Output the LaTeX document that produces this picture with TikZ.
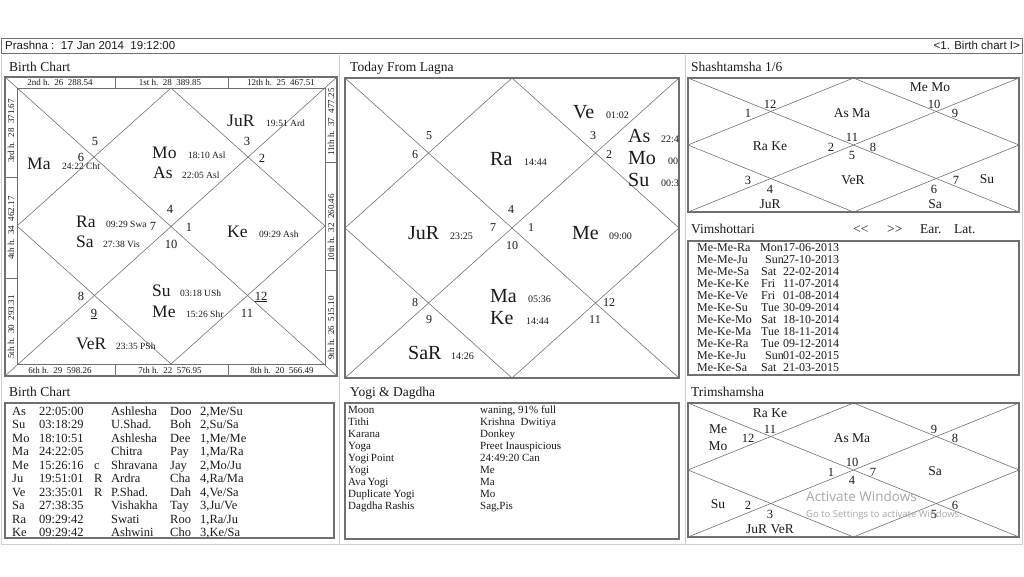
\documentclass[tikz,border=0pt]{standalone}
\usepackage{fontspec}
\setmainfont{Liberation Serif}
\newfontfamily\barfont{Liberation Sans}
\newfontfamily\wmfont{Open Sans}
\usetikzlibrary{positioning}
\definecolor{frameGray}{HTML}{707070}
\definecolor{lineGray}{HTML}{6A6A6A}
\definecolor{sepGray}{HTML}{CFCFCF}
\definecolor{wmGray}{HTML}{A8A8A8}
\definecolor{inkDark}{HTML}{1A1A1A}
\tikzset{
  panelBox/.style={draw=frameGray, line width=1.5pt},
  innerBox/.style={draw=frameGray, line width=0.9pt},
  chartLine/.style={draw=lineGray, line width=0.55pt},
  sepLine/.style={draw=sepGray, line width=1pt},
  barText/.style={inner sep=0pt, text=inkDark, font=\barfont\fontsize{11.5}{13}\selectfont},
  titleTxt/.style={anchor=base west, inner sep=0pt, text=inkDark, font=\fontsize{13.5}{15}\selectfont},
  planetTxt/.style={anchor=base west, inner sep=0pt, text=inkDark, font=\fontsize{17.5}{20}\selectfont},
  bigPlanet/.style={anchor=base west, inner sep=0pt, text=inkDark, font=\fontsize{20}{22}\selectfont},
  degTxt/.style={anchor=base west, inner sep=0pt, text=inkDark, font=\fontsize{9.5}{11}\selectfont},
  houseNum/.style={anchor=base, inner sep=0pt, text=inkDark, font=\fontsize{12.5}{14}\selectfont},
  stripTxt/.style={inner sep=0pt, text=inkDark, font=\fontsize{9}{10}\selectfont},
  vargaTxt/.style={inner sep=0pt, text=inkDark, font=\fontsize{13.5}{15}\selectfont},
  vargaNum/.style={inner sep=0pt, text=inkDark, font=\fontsize{12.5}{14}\selectfont},
  rowTxt/.style={anchor=base west, inner sep=0pt, text=inkDark, font=\fontsize{12.5}{14}\selectfont},
  yogiTxt/.style={anchor=base west, inner sep=0pt, text=inkDark, font=\fontsize{11}{12}\selectfont},
  wmark/.style={anchor=base west, inner sep=0pt, text=wmGray, font=\wmfont},
}
\begin{document}
\begin{tikzpicture}[x=1pt, y=-1pt]
  \useasboundingbox (0,0) rectangle (1024,576);
  \fill[white] (0,0) rectangle (1024,576);

  % header bar
  \draw[draw=frameGray, line width=0.8pt] (1,38) rectangle (1022,53);
  \node[barText, anchor=west] (prashna) at (5,45.5) {Prashna :\ \ 17 Jan 2014\ \ 19:12:00};
  \node[barText, anchor=east] (chartSel) at (1020,45.5) {<1. Birth chart I>};
  \draw[sepLine] (1,55) -- (1,544) -- (1022,544) -- (1022,55);
  \draw[sepLine] (339.5,55) -- (339.5,544) (685.5,55) -- (685.5,544);

  % birth chart
  \node[titleTxt] (bcTitle) at (9,71) {Birth Chart};
  \draw[panelBox] (5,77) rectangle (337,376);
  \draw[innerBox] (17,88) rectangle (325,364);
  \draw[chartLine] (5,77) -- (337,376) (5,376) -- (337,77);
  \draw[chartLine] (171,88) -- (325,226) -- (171,364) -- (17,226) -- cycle;
  \draw[innerBox] (115,77) -- (115,88) (228,77) -- (228,88)
    (115,364) -- (115,376) (228,364) -- (228,376)
    (5,177) -- (17,177) (5,278) -- (17,278)
    (325,162) -- (337,162) (325,270) -- (337,270);
  \node[stripTxt] (h2) at (60,82.5) {2nd h.\ \ 26\ \ 288.54};
  \node[stripTxt] (h1) at (170,82.5) {1st h.\ \ 28\ \ 389.85};
  \node[stripTxt] (h12) at (281,82.5) {12th h.\ \ 25\ \ 467.51};
  \node[stripTxt] (h6) at (60,370.5) {6th h.\ \ 29\ \ 598.26};
  \node[stripTxt] (h7) at (170,370.5) {7th h.\ \ 22\ \ 576.95};
  \node[stripTxt] (h8) at (282,370.5) {8th h.\ \ 20\ \ 566.49};
  \node[stripTxt, rotate=90] (h3) at (11,131) {3rd h.\ \ 28\ \ 371.67};
  \node[stripTxt, rotate=90] (h4) at (11,228) {4th h.\ \ 34\ \ 462.17};
  \node[stripTxt, rotate=90] (h5) at (11,327) {5th h.\ \ 30\ \ 293.31};
  \node[stripTxt, rotate=90] (h11) at (331,122) {11th h.\ \ 37\ \ 477.25};
  \node[stripTxt, rotate=90] (h10) at (331,228) {10th h.\ \ 32\ \ 260.46};
  \node[stripTxt, rotate=90] (h9) at (331,328) {9th h.\ \ 26\ \ 515.10};

  \node[planetTxt] (bcJu) at (227,126) {JuR};
  \node[degTxt] (bcJuD) at (266,126) {19:51 Ard};
  \node[planetTxt] (bcMa) at (27,169) {Ma};
  \node[degTxt] (bcMaD) at (62,169) {24:22 Cht};
  \node[planetTxt] (bcMo) at (152,158) {Mo};
  \node[degTxt] (bcMoD) at (188,158) {18:10 Asl};
  \node[planetTxt] (bcAs) at (153,178) {As};
  \node[degTxt] (bcAsD) at (182,178) {22:05 Asl};
  \node[planetTxt] (bcRa) at (76,227) {Ra};
  \node[degTxt] (bcRaD) at (106,227) {09:29 Swa};
  \node[planetTxt] (bcSa) at (76,247) {Sa};
  \node[degTxt] (bcSaD) at (103,247) {27:38 Vis};
  \node[planetTxt] (bcKe) at (227,237) {Ke};
  \node[degTxt] (bcKeD) at (259,237) {09:29 Ash};
  \node[planetTxt] (bcSu) at (152,296) {Su};
  \node[degTxt] (bcSuD) at (180,296) {03:18 USh};
  \node[planetTxt] (bcMe) at (152,317) {Me};
  \node[degTxt] (bcMeD) at (186,317) {15:26 Shr};
  \node[planetTxt] (bcVe) at (76,349) {VeR};
  \node[degTxt] (bcVeD) at (116,349) {23:35 PSh};
  \node[houseNum] (bcN5) at (95,145) {5};
  \node[houseNum] (bcN6) at (81,161) {6};
  \node[houseNum] (bcN3) at (247,145) {3};
  \node[houseNum] (bcN2) at (262,162) {2};
  \node[houseNum] (bcN4) at (170,213) {4};
  \node[houseNum] (bcN7) at (153,230) {7};
  \node[houseNum] (bcN1) at (189,231) {1};
  \node[houseNum] (bcN10) at (171,248) {10};
  \node[houseNum] (bcN8) at (81,300) {8};
  \node[houseNum] (bcN9) at (94,317) {\underline{9}};
  \node[houseNum] (bcN12) at (261,300) {\underline{12}};
  \node[houseNum] (bcN11) at (247,317) {11};

  % today from lagna
  \node[titleTxt] (tflTitle) at (350,71) {Today From Lagna};
  \draw[panelBox] (345,78) rectangle (679,378);
  \draw[chartLine] (345,78) -- (679,378) (345,378) -- (679,78);
  \draw[chartLine] (512,78) -- (679,228) -- (512,378) -- (345,228) -- cycle;
  \begin{scope}
    \clip (345,78) rectangle (678,378);
    \node[bigPlanet] (tfVe) at (573,118) {Ve};
    \node[degTxt, font=\fontsize{10}{11}\selectfont] (tfVeD) at (606,118) {01:02};
    \node[bigPlanet] (tfAs) at (628,142) {As};
    \node[degTxt, font=\fontsize{10}{11}\selectfont] (tfAsD) at (661,142) {22:4};
    \node[bigPlanet] (tfMo) at (628,164) {Mo};
    \node[degTxt, font=\fontsize{10}{11}\selectfont] (tfMoD) at (668,164) {00};
    \node[bigPlanet] (tfSu) at (628,186) {Su};
    \node[degTxt, font=\fontsize{10}{11}\selectfont] (tfSuD) at (661,186) {00:3};
  \end{scope}
  \node[bigPlanet] (tfRa) at (490,165) {Ra};
  \node[degTxt, font=\fontsize{10}{11}\selectfont] (tfRaD) at (524,165) {14:44};
  \node[bigPlanet] (tfJu) at (408,239) {JuR};
  \node[degTxt, font=\fontsize{10}{11}\selectfont] (tfJuD) at (450,239) {23:25};
  \node[bigPlanet] (tfMe) at (572,239) {Me};
  \node[degTxt, font=\fontsize{10}{11}\selectfont] (tfMeD) at (609,239) {09:00};
  \node[bigPlanet] (tfMa) at (490,302) {Ma};
  \node[degTxt, font=\fontsize{10}{11}\selectfont] (tfMaD) at (528,302) {05:36};
  \node[bigPlanet] (tfKe) at (490,324) {Ke};
  \node[degTxt, font=\fontsize{10}{11}\selectfont] (tfKeD) at (526,324) {14:44};
  \node[bigPlanet] (tfSa) at (408,359) {SaR};
  \node[degTxt, font=\fontsize{10}{11}\selectfont] (tfSaD) at (451,359) {14:26};
  \node[houseNum, font=\fontsize{12}{13}\selectfont] (tfN5) at (429,139) {5};
  \node[houseNum, font=\fontsize{12}{13}\selectfont] (tfN6) at (415,158) {6};
  \node[houseNum, font=\fontsize{12}{13}\selectfont] (tfN3) at (593,139) {3};
  \node[houseNum, font=\fontsize{12}{13}\selectfont] (tfN2) at (609,158) {2};
  \node[houseNum, font=\fontsize{12}{13}\selectfont] (tfN4) at (511,213) {4};
  \node[houseNum, font=\fontsize{12}{13}\selectfont] (tfN7) at (493,231) {7};
  \node[houseNum, font=\fontsize{12}{13}\selectfont] (tfN1) at (531,231) {1};
  \node[houseNum, font=\fontsize{12}{13}\selectfont] (tfN10) at (512,249) {10};
  \node[houseNum, font=\fontsize{12}{13}\selectfont] (tfN8) at (415,306) {8};
  \node[houseNum, font=\fontsize{12}{13}\selectfont] (tfN9) at (429,323) {9};
  \node[houseNum, font=\fontsize{12}{13}\selectfont] (tfN12) at (609,306) {12};
  \node[houseNum, font=\fontsize{12}{13}\selectfont] (tfN11) at (595,323) {11};

  % shashtamsha
  \node[titleTxt] (d6Title) at (691,71) {Shashtamsha 1/6};
  \draw[panelBox] (688,78) rectangle (1019,212);
  \draw[chartLine] (688,78) -- (1019,212) (688,212) -- (1019,78);
  \draw[chartLine] (853.5,78) -- (1019,145) -- (853.5,212) -- (688,145) -- cycle;
  \node[vargaTxt] (d6AsMa) at (852,113) {As Ma};
  \node[vargaTxt] (d6MeMo) at (930,87) {Me Mo};
  \node[vargaTxt] (d6RaKe) at (770,146) {Ra Ke};
  \node[vargaTxt] (d6Ve) at (853,180) {VeR};
  \node[vargaTxt] (d6Su) at (987,179) {Su};
  \node[vargaTxt] (d6Ju) at (770,204) {JuR};
  \node[vargaTxt] (d6Sa) at (935,204) {Sa};
  \node[vargaNum] (d6N12) at (770,104) {12};
  \node[vargaNum] (d6N1) at (748,113) {1};
  \node[vargaNum] (d6N10) at (934,104) {10};
  \node[vargaNum] (d6N9) at (955,113) {9};
  \node[vargaNum] (d6N11) at (852,137) {11};
  \node[vargaNum] (d6N2) at (831,147) {2};
  \node[vargaNum] (d6N5) at (852,155) {5};
  \node[vargaNum] (d6N8) at (873,147) {8};
  \node[vargaNum] (d6N3) at (748,180) {3};
  \node[vargaNum] (d6N4) at (770,189) {4};
  \node[vargaNum] (d6N7) at (956,180) {7};
  \node[vargaNum] (d6N6) at (934,189) {6};

  % vimshottari
  \node[titleTxt] (vimTitle) at (691,233) {Vimshottari};
  \node[titleTxt] (vimPrev) at (853,233) {<\kern0pt<};
  \node[titleTxt] (vimNext) at (887,233) {>\kern0pt>};
  \node[titleTxt] (vimEar) at (920,233) {Ear.};
  \node[titleTxt] (vimLat) at (954,233) {Lat.};
  \draw[panelBox] (688,241) rectangle (1019,375);
  \foreach \vper/\vday/\vx/\vdate [count=\i] in {
      Me-Me-Ra/Mon/760/17-06-2013, Me-Me-Ju/Sun/765/27-10-2013,
      Me-Me-Sa/Sat/761/22-02-2014, Me-Ke-Ke/Fri/761/11-07-2014,
      Me-Ke-Ve/Fri/761/01-08-2014, Me-Ke-Su/Tue/761/30-09-2014,
      Me-Ke-Mo/Sat/761/18-10-2014, Me-Ke-Ma/Tue/761/18-11-2014,
      Me-Ke-Ra/Tue/761/09-12-2014, Me-Ke-Ju/Sun/765/01-02-2015,
      Me-Ke-Sa/Sat/761/21-03-2015} {
    \node[rowTxt, font=\fontsize{12}{13}\selectfont] (vim\i) at (697,{251+12*(\i-1)}) {\vper};
    \node[rowTxt, font=\fontsize{12}{13}\selectfont] (vimDay\i) at (\vx,{251+12*(\i-1)}) {\vday};
    \node[rowTxt, font=\fontsize{12}{13}\selectfont] (vimDate\i) at (783,{251+12*(\i-1)}) {\vdate};
  }

  % birth chart table
  \node[titleTxt] (tabTitle) at (9,396) {Birth Chart};
  \draw[panelBox] (5,403) rectangle (334,538);
  \foreach \pnm/\ptm/\pfl/\pnk/\psy/\ppd/\plA/\plB [count=\i] in {
      As/22:05:00/{}/Ashlesha/Doo/2/Me/Su, Su/03:18:29/{}/U.Shad./Boh/2/Su/Sa,
      Mo/18:10:51/{}/Ashlesha/Dee/1/Me/Me, Ma/24:22:05/{}/Chitra/Pay/1/Ma/Ra,
      Me/15:26:16/c/Shravana/Jay/2/Mo/Ju, Ju/19:51:01/R/Ardra/Cha/4/Ra/Ma,
      Ve/23:35:01/R/P.Shad./Dah/4/Ve/Sa, Sa/27:38:35/{}/Vishakha/Tay/3/Ju/Ve,
      Ra/09:29:42/{}/Swati/Roo/1/Ra/Ju, Ke/09:29:42/{}/Ashwini/Cho/3/Ke/Sa} {
    \node[rowTxt] (tabPl\i) at (12,{415+13.55*(\i-1)}) {\pnm};
    \node[rowTxt] (tabTm\i) at (39,{415+13.55*(\i-1)}) {\ptm};
    \node[rowTxt] (tabFl\i) at (94,{415+13.55*(\i-1)}) {\pfl};
    \node[rowTxt] (tabNk\i) at (111,{415+13.55*(\i-1)}) {\pnk};
    \node[rowTxt] (tabSy\i) at (170,{415+13.55*(\i-1)}) {\psy};
    \node[rowTxt] (tabPd\i) at (200,{415+13.55*(\i-1)}) {\ppd,\plA/\plB};
  }

  % yogi & dagdha
  \node[titleTxt] (yogiTitle) at (350,396) {Yogi \& Dagdha};
  \draw[panelBox] (345,403) rectangle (679,539);
  \foreach \ykey/\yval [count=\i] in {
      Moon/{waning, 91\% full}, Tithi/Krishna\ \ Dwitiya, Karana/Donkey,
      Yoga/Preet Inauspicious, Yogi\,Point/24:49:20 Can, Yogi/Me,
      Ava\,Yogi/Ma, Duplicate Yogi/Mo, Dagdha Rashis/{Sag,Pis}} {
    \node[yogiTxt] (yogiKey\i) at (348,{413+12*(\i-1)}) {\ykey};
    \node[yogiTxt] (yogiVal\i) at (480,{413+12*(\i-1)}) {\yval};
  }

  % trimshamsha
  \node[titleTxt] (d30Title) at (691,396) {Trimshamsha};
  \draw[panelBox] (688,403) rectangle (1019,537);
  \draw[chartLine] (688,403) -- (1019,537) (688,537) -- (1019,403);
  \draw[chartLine] (853.5,403) -- (1019,470) -- (853.5,537) -- (688,470) -- cycle;
  \node[vargaTxt] (d30RaKe) at (770,413) {Ra Ke};
  \node[vargaTxt] (d30Me) at (718,429) {Me};
  \node[vargaTxt] (d30Mo) at (718,446) {Mo};
  \node[vargaTxt] (d30AsMa) at (852,438) {As Ma};
  \node[vargaTxt] (d30Sa) at (935,471) {Sa};
  \node[vargaTxt] (d30Su) at (718,504) {Su};
  \node[vargaTxt] (d30JuVe) at (770,529) {JuR VeR};
  \node[vargaNum] (d30N12) at (748,438) {12};
  \node[vargaNum] (d30N11) at (770,429) {11};
  \node[vargaNum] (d30N9) at (934,429) {9};
  \node[vargaNum] (d30N8) at (955,438) {8};
  \node[vargaNum] (d30N1) at (831,472) {1};
  \node[vargaNum] (d30N10) at (852,462) {10};
  \node[vargaNum] (d30N7) at (873,472) {7};
  \node[vargaNum] (d30N4) at (852,480) {4};
  \node[vargaNum] (d30N2) at (748,505) {2};
  \node[vargaNum] (d30N3) at (770,514) {3};
  \node[vargaNum] (d30N5) at (934,514) {5};
  \node[vargaNum] (d30N6) at (955,505) {6};
  \node[wmark, font=\wmfont\fontsize{13.5}{15}\selectfont] (wmTop) at (806,501) {Activate Windows};
  \node[wmark, font=\wmfont\fontsize{9.5}{11}\selectfont] (wmSub) at (806,517) {Go to Settings to activate Windows.};
\end{tikzpicture}
\end{document}
